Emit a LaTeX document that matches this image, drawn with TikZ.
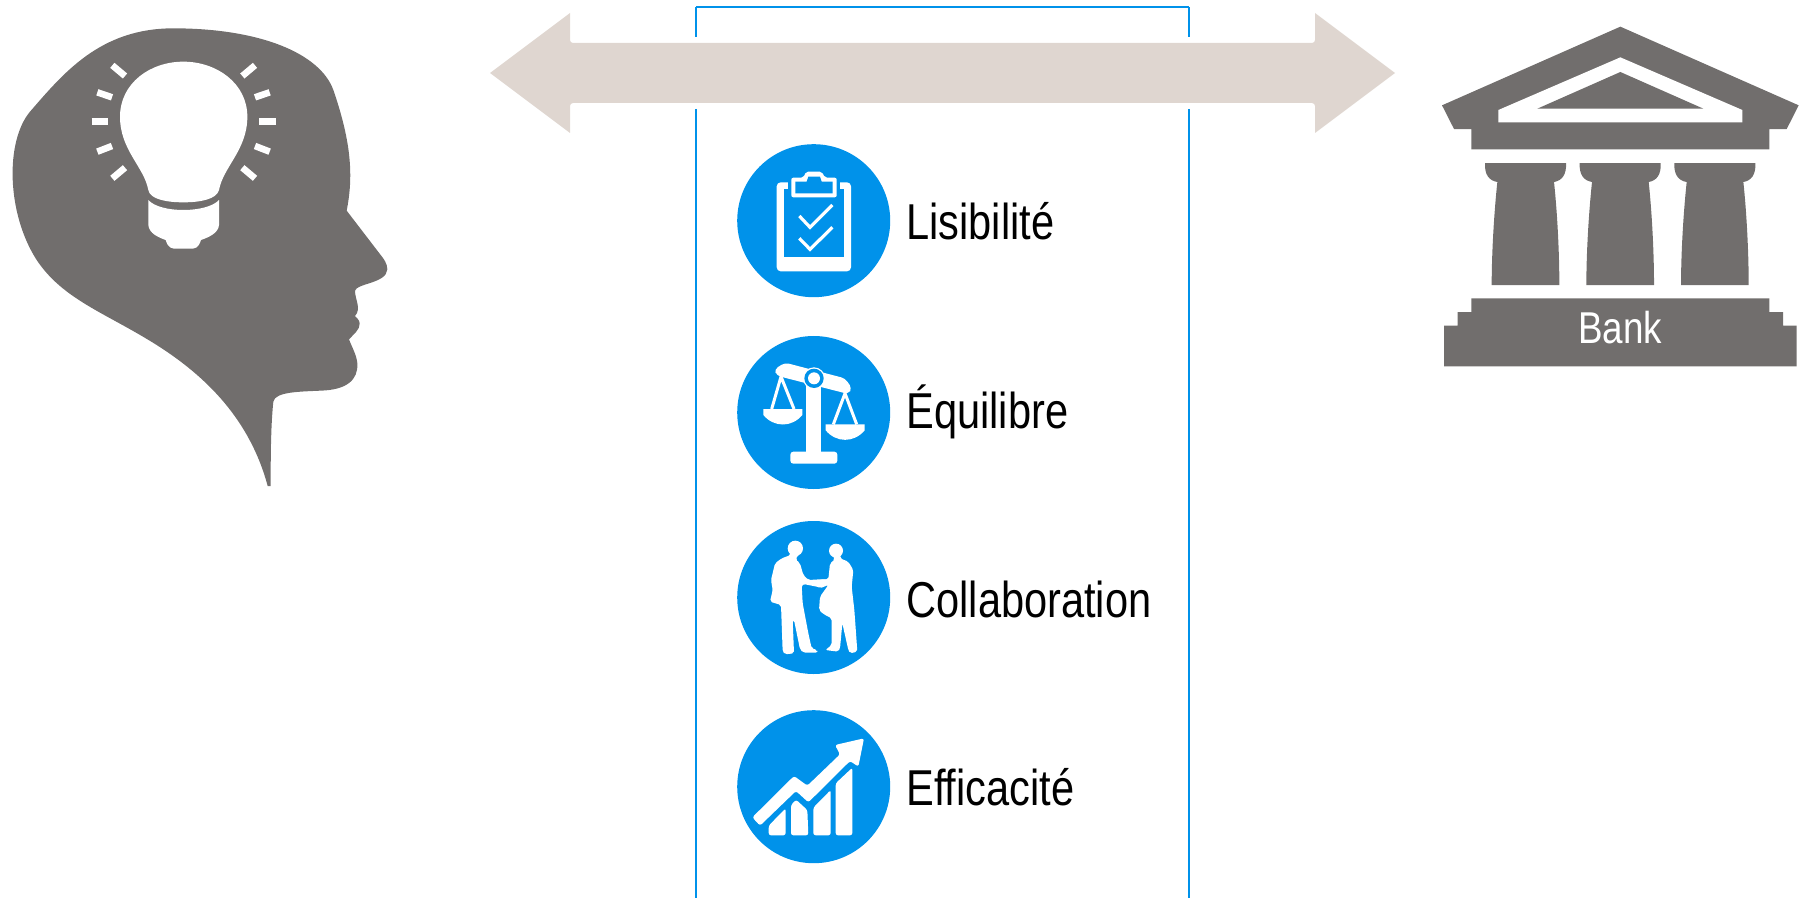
\documentclass[tikz,border=0pt]{standalone}
\usepackage{fontspec}
\setmainfont[FakeStretch=0.825]{Liberation Sans}
\definecolor{headgray}{HTML}{716E6D}
\definecolor{beige}{HTML}{DFD6D0}
\definecolor{iconblue}{HTML}{0092EA}
\tikzset{
  x=0.5pt,y=-0.5pt,
  zoomed/.style={x=0.16667pt,y=-0.16667pt},
  frameline/.style={draw=iconblue,line width=1pt},
  frametop/.style={draw=iconblue,line width=1.4pt},
  disc/.style={circle,fill=iconblue,minimum size=76.5pt,inner sep=0pt},
  label/.style={anchor=base west,inner sep=0pt,font=\fontsize{25.2pt}{28pt}\selectfont},
  rays/.style={draw=white,line width=3.3pt},
  ticks/.style={draw=white,line width=1.6pt},
  strings/.style={draw=white,line width=1.5pt},
  silh/.style={fill=white,rounded corners=1pt},
  chart/.style={fill=white,rounded corners=1.2pt}
}
\begin{document}
\begin{tikzpicture}
\useasboundingbox (0,0) rectangle (1807,898);
% frame
\coordinate (ftl) at (696,7); \coordinate (ftr) at (1189,7);
\coordinate (fl1) at (696,37); \coordinate (fr1) at (1189,37);
\coordinate (fl2) at (696,109); \coordinate (fr2) at (1189,109);
\coordinate (fl3) at (696,898); \coordinate (fr3) at (1189,898);
\draw[frametop] (ftl) -- (ftr);
\draw[frameline] (fl1) -- (ftl);
\draw[frameline] (fr1) -- (ftr);
\draw[frameline] (fl2) -- (fl3);
\draw[frameline] (fr2) -- (fr3);
% double arrow
\fill[beige] (490,73) -- (570,13) -- (570,40) arc[start angle=180,end angle=90,radius=3] -- (1312,43) arc[start angle=90,end angle=0,radius=3] -- (1315,13) -- (1395,73) -- (1315,133) -- (1315,106) arc[start angle=0,end angle=-90,radius=3] -- (573,103) arc[start angle=-90,end angle=-180,radius=3] -- (570,133) -- cycle;
% head
\begin{scope}[zoomed]
\fill[headgray] (803,1458) -- (812,1458) .. controls (812,1380) and (812,1280) .. (820,1205) .. controls (825,1175) and (900,1175) .. (960,1172) .. controls (1040,1170) and (1075,1140) .. (1072,1090) .. controls (1070,1065) and (1055,1040) .. (1047,1018) .. controls (1060,1003) and (1080,990) .. (1079,970) .. controls (1078,958) and (1070,955) .. (1065,948) .. controls (1085,925) and (1065,900) .. (1065,872) .. controls (1070,850) and (1160,850) .. (1162,808) .. controls (1162,790) and (1150,775) .. (1142,765) -- (1040,632) .. controls (1060,530) and (1055,430) .. (1000,270) .. controls (960,160) and (780,85) .. (520,85) .. controls (300,85) and (190,220) .. (90,335) .. controls (15,425) and (20,640) .. (110,780) .. controls (190,900) and (320,940) .. (470,1035) .. controls (620,1130) and (750,1260) .. (803,1458) -- cycle;
% bulb
\fill[white] (550,185) .. controls (650,185) and (742,250) .. (742,350) .. controls (742,450) and (670,500) .. (657,570) .. controls (650,598) and (600,607) .. (550,607) .. controls (500,607) and (450,598) .. (445,570) .. controls (432,500) and (360,450) .. (360,350) .. controls (360,250) and (450,185) .. (550,185) -- cycle;
\fill[white] (445,600) .. controls (480,640) and (620,640) .. (657,600) -- (657,675) .. controls (655,700) and (625,712) .. (603,720) .. controls (595,745) and (585,746) .. (570,746) -- (530,746) .. controls (515,746) and (505,745) .. (497,720) .. controls (475,712) and (447,700) .. (445,675) -- cycle;
\draw[rays] (275,365) -- (323,365);
\draw[rays] (292,277) -- (336,292);
\draw[rays] (292,455) -- (336,438);
\draw[rays] (337,196) -- (375,228);
\draw[rays] (337,535) -- (375,503);
\draw[rays] (827,365) -- (778,365);
\draw[rays] (809,277) -- (765,292);
\draw[rays] (809,455) -- (765,438);
\draw[rays] (765,196) -- (727,228);
\draw[rays] (765,535) -- (727,503);
\end{scope}
% bank
\begin{scope}[shift={(1420,0)},zoomed]
\fill[headgray] (601,80) -- (1136,316) -- (1100,387) -- (1048,387) -- (1048,448) -- (154,448) -- (154,387) -- (102,387) -- (66,316) -- cycle;
\fill[white] (601,172) -- (967,330) -- (967,367) -- (235,367) -- (235,330) -- cycle;
\fill[headgray] (601,216) -- (850,326) -- (352,326) -- cycle;
\foreach \dx in {0,284,568}{
  \fill[headgray,xshift=\dx*0.16667pt] (195,489) -- (438,489) .. controls (440,525) and (425,542) .. (402,546) .. controls (412,640) and (418,760) .. (418,855) -- (215,855) .. controls (215,760) and (222,640) .. (232,546) .. controls (208,542) and (193,525) .. (195,489) -- cycle;
}
\fill[headgray] (154,895) -- (1048,895) -- (1048,936) -- (1089,936) -- (1089,977) -- (1130,977) -- (1130,1099) -- (72,1099) -- (72,977) -- (113,977) -- (113,936) -- (154,936) -- cycle;
\node[anchor=base,inner sep=0pt,text=white,font=\fontsize{22.3pt}{24pt}\selectfont] (bank) at (601,1030) {Bank};
\end{scope}
% discs
\node[disc] (d1) at (813.7,220.7) {};
\node[disc] (d2) at (813.7,412.5) {};
\node[disc] (d3) at (813.7,597.5) {};
\node[disc] (d4) at (813.7,786.7) {};
% clipboard
\begin{scope}[shift={(720,130)},zoomed]
\fill[white,rounded corners=2pt] (170,157) rectangle (393,424);
\fill[iconblue] (192,178) rectangle (371,380);
\fill[iconblue] (205,150) rectangle (360,178);
\fill[white,rounded corners=1pt] (214,143) -- (250,143) -- (258,125) -- (305,125) -- (315,143) -- (350,143) -- (350,202) -- (214,202) -- cycle;
\fill[iconblue] (226,155) -- (260,155) -- (265,140) -- (300,140) -- (305,155) -- (338,155) -- (338,190) -- (226,190) -- cycle;
\draw[ticks] (238,258) -- (270,292) -- (337,225);
\draw[ticks] (238,325) -- (270,358) -- (337,292);
\end{scope}
% scales
\begin{scope}[shift={(720,325)},zoomed]
\fill[white,rounded corners=2pt] (163,133) -- (195,113) -- (375,160) -- (396,190) -- (385,207) -- (170,152) -- cycle;
\fill[white] (259,170) rectangle (304,385);
\fill[white,rounded corners=1.5pt] (211,416) -- (211,380) -- (352,380) -- (352,416) -- cycle;
\fill[white] (282,160) circle[radius=33];
\fill[iconblue] (282,160) circle[radius=29];
\fill[white] (282,160) circle[radius=18];
\draw[strings] (155,252) -- (183,155) -- (222,252);
\draw[strings] (340,298) -- (375,205) -- (410,298);
\fill[white] (130,252) -- (247,252) -- (247,270) .. controls (215,308) and (162,308) .. (130,270) -- cycle;
\fill[white] (317,298) -- (434,298) -- (434,316) .. controls (402,354) and (349,354) .. (317,316) -- cycle;
\end{scope}
% handshake
\begin{scope}[shift={(720,510)},zoomed]
\fill[white] (226,115) circle[radius=23];
\fill[white] (348,122) circle[radius=21];
\fill[silh] (212,125) -- (240,130) -- (226,147) -- (240,160) -- (250,195) -- (265,210) -- (300,208) -- (330,208) -- (300,232) -- (250,222) -- (245,225) -- (248,280) -- (265,370) -- (275,415) -- (292,420) -- (292,428) -- (250,428) -- (240,418) -- (222,330) -- (218,330) -- (222,430) -- (195,433) -- (188,425) -- (183,285) -- (150,275) -- (158,240) -- (153,210) -- (165,160) -- (185,145) -- (212,135) -- cycle;
\fill[silh] (335,130) -- (362,130) -- (360,145) -- (385,155) -- (400,180) -- (395,230) -- (403,300) -- (412,425) -- (390,430) -- (385,420) -- (367,340) -- (360,415) -- (355,425) -- (316,420) -- (335,405) -- (335,325) -- (310,312) -- (297,300) -- (300,260) -- (325,225) -- (300,235) -- (280,222) -- (300,208) -- (325,208) -- (330,160) -- (345,148) -- cycle;
\end{scope}
% chart
\begin{scope}[shift={(720,695)},zoomed]
\fill[chart] (97,367) -- (222,243) -- (262,272) -- (360,178) -- (345,150) -- (432,130) -- (415,215) -- (390,198) -- (265,322) -- (228,288) -- (120,392) -- cycle;
\fill[chart] (146,421) -- (146,392) -- (197,340) -- (197,421) -- cycle;
\fill[chart] (213,421) -- (213,330) -- (228,314) -- (262,345) -- (265,421) -- cycle;
\fill[chart] (280,421) -- (280,338) -- (332,285) -- (332,421) -- cycle;
\fill[chart] (347,421) -- (347,265) -- (397,218) -- (397,421) -- cycle;
\end{scope}
% labels
\node[label] (t1) at (906,240) {Lisibilité};
\node[label] (t2) at (906,428) {Équilibre};
\node[label] (t3) at (906,617) {Collaboration};
\node[label] (t4) at (906,805) {Efficacité};
\end{tikzpicture}
\end{document}
